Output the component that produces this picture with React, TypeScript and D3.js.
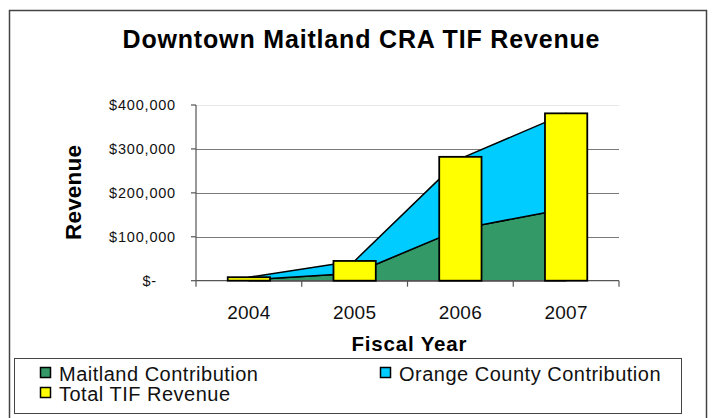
import React, { useEffect, useRef } from 'react';
import * as d3 from 'd3';

// fiscal years on the category axis
const years = ['2004', '2005', '2006', '2007'];
// stacked area series
const maitland = [2000, 17000, 118000, 164000];
const orangeCounty = [6000, 28000, 160000, 217000];
// bar series
const totalTif = [8000, 45000, 282000, 381000];
const yTicks = [0, 100000, 200000, 300000, 400000];

const seriesNames = ['Maitland Contribution', 'Orange County Contribution', 'Total TIF Revenue'];
const seriesColors = ['#339966', '#00CCFF', '#FFFF00'];

const FONT = "'Liberation Sans', Arial, sans-serif";

const App = () => {
  const svgRef = useRef<SVGSVGElement>(null);

  useEffect(() => {
    if (!svgRef.current) return;
    const svg = d3.select(svgRef.current);
    svg.selectAll('*').remove();

    const width = 713;
    const height = 418;
    const plot = { left: 196, right: 619, top: 105, bottom: 280.7 };

    svg.attr('width', width).attr('height', height);

    // chart border
    svg.append('rect')
      .attr('x', 9.5).attr('y', 10.5)
      .attr('width', 697).attr('height', 420)
      .attr('fill', '#fff')
      .attr('stroke', '#444').attr('stroke-width', 1.5);

    // title
    svg.append('text')
      .attr('x', 361).attr('y', 48)
      .attr('text-anchor', 'middle')
      .attr('font-family', FONT)
      .attr('font-weight', 'bold')
      .attr('font-size', 25)
      .attr('textLength', 477)
      .attr('lengthAdjust', 'spacing')
      .text('Downtown Maitland CRA TIF Revenue');

    const x = d3.scaleBand<string>()
      .domain(years)
      .range([plot.left, plot.right])
      .padding(0);

    const y = d3.scaleLinear()
      .domain([0, 400000])
      .range([plot.bottom, plot.top]);

    const cx = (d: string) => (x(d) as number) + x.bandwidth() / 2;

    // gridlines
    svg.append('g')
      .selectAll('line')
      .data(yTicks.filter(t => t > 0))
      .join('line')
      .attr('x1', plot.left).attr('x2', plot.right)
      .attr('y1', d => Math.round(y(d)) + 0.5)
      .attr('y2', d => Math.round(y(d)) + 0.5)
      .attr('stroke', d => (d === 400000 ? '#e8e8e8' : '#7a7a7a'))
      .attr('stroke-width', 1);

    // stacked areas
    const rows = years.map((yr, i) => ({ year: yr, maitland: maitland[i], orange: orangeCounty[i] }));
    const stacked = d3.stack<any>().keys(['maitland', 'orange'])(rows);

    const area = d3.area<any>()
      .x(d => cx(d.data.year))
      .y0(d => y(d[0]))
      .y1(d => y(d[1]));

    svg.append('g')
      .selectAll('path')
      .data(stacked)
      .join('path')
      .attr('d', d => area(d) as string)
      .attr('fill', (d, i) => seriesColors[i])
      .attr('stroke', '#000')
      .attr('stroke-width', 1.5)
      .attr('stroke-linejoin', 'round');

    // axes lines
    svg.append('line')
      .attr('x1', plot.left).attr('x2', plot.right)
      .attr('y1', plot.bottom).attr('y2', plot.bottom)
      .attr('stroke', '#555').attr('stroke-width', 1.2);
    svg.append('line')
      .attr('x1', plot.left).attr('x2', plot.left)
      .attr('y1', plot.top).attr('y2', plot.bottom)
      .attr('stroke', '#555').attr('stroke-width', 1.2);

    // y ticks
    svg.append('g')
      .selectAll('line')
      .data(yTicks)
      .join('line')
      .attr('x1', plot.left - 5).attr('x2', plot.left)
      .attr('y1', d => y(d)).attr('y2', d => y(d))
      .attr('stroke', '#555').attr('stroke-width', 1.2);

    // x ticks at category boundaries
    const bounds = years.map(d => x(d) as number).concat([plot.right]);
    svg.append('g')
      .selectAll('line')
      .data(bounds)
      .join('line')
      .attr('x1', d => d).attr('x2', d => d)
      .attr('y1', plot.bottom).attr('y2', plot.bottom + 6)
      .attr('stroke', '#555').attr('stroke-width', 1.2);

    // bars
    const barW = x.bandwidth() * 0.4;
    svg.append('g')
      .selectAll('rect')
      .data(totalTif)
      .join('rect')
      .attr('x', (d, i) => cx(years[i]) - barW / 2)
      .attr('y', d => y(d))
      .attr('width', barW)
      .attr('height', d => plot.bottom - y(d))
      .attr('fill', seriesColors[2])
      .attr('stroke', '#000')
      .attr('stroke-width', 1.8);

    // y labels
    const fmt = d3.format('$,');
    svg.append('g')
      .selectAll('text')
      .data(yTicks)
      .join('text')
      .attr('x', d => (d === 0 ? 157 : 176))
      .attr('y', d => y(d))
      .attr('dy', '0.36em')
      .attr('text-anchor', 'end')
      .attr('font-family', FONT)
      .attr('font-size', 14.5)
      .attr('letter-spacing', 0.8)
      .attr('fill', '#111')
      .text(d => (d === 0 ? '$-' : fmt(d)));

    // x labels
    svg.append('g')
      .selectAll('text')
      .data(years)
      .join('text')
      .attr('x', d => cx(d))
      .attr('y', 319)
      .attr('text-anchor', 'middle')
      .attr('font-family', FONT)
      .attr('font-size', 19)
      .attr('letter-spacing', 0.3)
      .attr('fill', '#111')
      .text(d => d);

    // axis titles
    svg.append('text')
      .attr('x', 409).attr('y', 351)
      .attr('text-anchor', 'middle')
      .attr('font-family', FONT)
      .attr('font-weight', 'bold')
      .attr('font-size', 20.5)
      .attr('textLength', 115)
      .attr('lengthAdjust', 'spacing')
      .text('Fiscal Year');

    svg.append('text')
      .attr('transform', 'translate(81,192.5) rotate(-90)')
      .attr('text-anchor', 'middle')
      .attr('font-family', FONT)
      .attr('font-weight', 'bold')
      .attr('font-size', 22.5)
      .attr('textLength', 95)
      .attr('lengthAdjust', 'spacing')
      .text('Revenue');

    // legend
    svg.append('rect')
      .attr('x', 14.5).attr('y', 358.5)
      .attr('width', 667).attr('height', 55)
      .attr('fill', '#fff')
      .attr('stroke', '#444').attr('stroke-width', 1);

    const legendPos = [[40, 367], [380, 367], [40, 387]];
    const lg = svg.append('g')
      .selectAll('g')
      .data(seriesNames)
      .join('g')
      .attr('transform', (d, i) => `translate(${legendPos[i][0]},${legendPos[i][1]})`);
    lg.append('rect')
      .attr('x', 0.5).attr('y', 0.5)
      .attr('width', 10).attr('height', 10)
      .attr('fill', (d, i) => seriesColors[i])
      .attr('stroke', '#000').attr('stroke-width', 1.5);
    lg.append('text')
      .attr('x', 19).attr('y', 14)
      .attr('font-family', FONT)
      .attr('font-size', 20)
      .attr('letter-spacing', 0.5)
      .attr('fill', '#111')
      .text(d => d);
  }, []);

  return (
    <svg ref={svgRef} style={{ position: 'absolute', left: 0, top: 0, display: 'block' }}></svg>
  );
};

export default App;
